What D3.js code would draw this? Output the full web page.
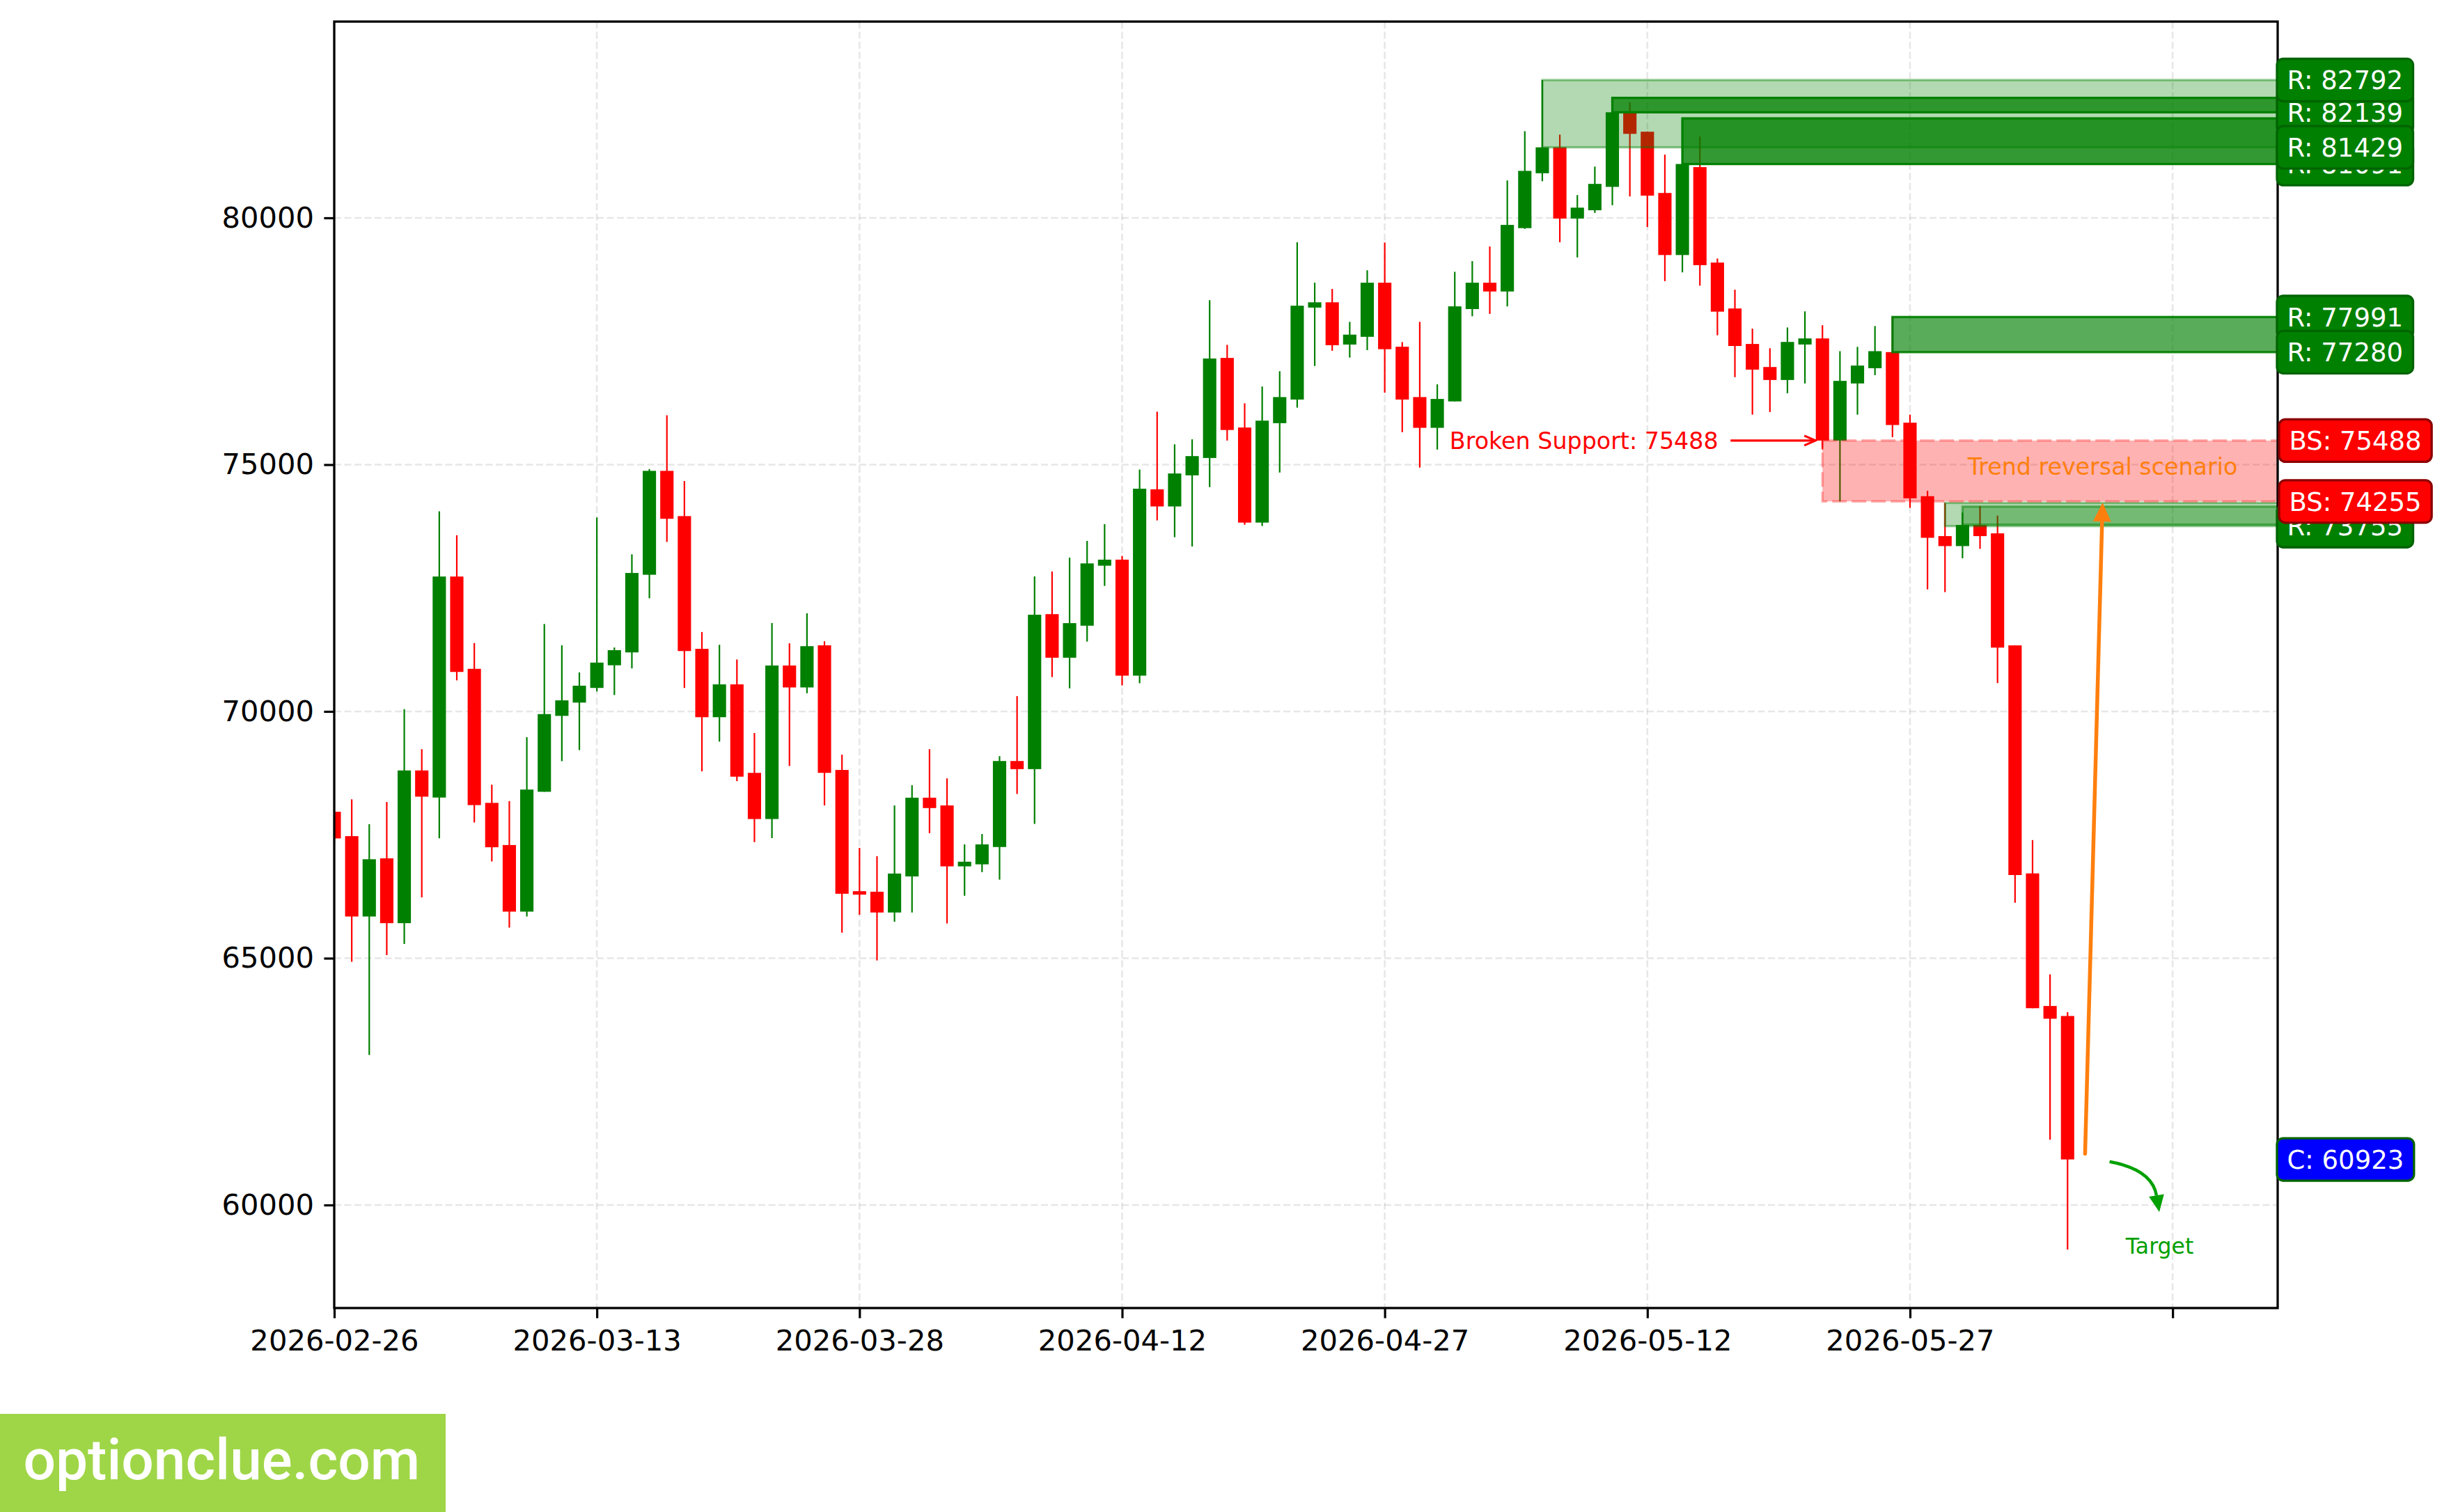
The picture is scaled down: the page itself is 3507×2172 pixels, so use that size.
<!DOCTYPE html>
<html><head><meta charset="utf-8">
<script src="https://cdn.jsdelivr.net/npm/d3@7"></script>
<style>html,body{margin:0;padding:0;background:#fff;} svg{display:block}</style>
</head><body>
<script>
// ---------- DATA ----------
const startDate = "2026-02-26";
const endDate = "2026-06-17";
const opens  = [67967,67473,65845,67023,65710,68804,68255,72733,70863,68147,67293,65944,68372,69910,70179,70476,70935,71196,72769,74874,
                73957,71268,69883,70548,68755,67820,70930,70486,71339,68814,66358,66347,65926,66657,68252,68095,66861,66902,67253,68995,
                68831,71971,71088,71737,72953,73075,70725,74500,74153,74783,75135,77162,75752,73826,75840,76319,78182,78289,77433,77590,
                78686,77389,76369,75746,76281,78152,78686,78508,79792,80904,81429,79986,80154,80628,82150,81745,80504,79247,81028,79094,
                78164,77445,76978,76715,77434,77557,75488,76645,76954,77280,75850,74361,73552,73350,73777,73608,71338,66718,64032,63829];
const highs  = [68150,68219,67715,68165,70045,69235,74055,73570,71385,68516,68183,69478,71771,71340,70791,73930,71295,73183,74910,76000,
                74667,71609,71349,71052,69562,71789,71380,71988,71421,69124,67235,67066,68095,68504,69235,68644,67306,67516,69094,70310,
                72736,72836,73116,73455,73795,73151,74902,76073,75412,75513,78333,77427,76243,76583,76892,79506,78686,78560,77893,78938,
                79501,77483,77893,76627,78907,79123,79420,80758,81756,82792,81686,80461,81038,82431,82339,81750,81281,82015,81648,79176,
                78544,77755,77358,77779,78106,77825,77299,77387,77808,77991,76013,74470,74225,74030,74159,73968,71338,67393,64673,63908];
const lows   = [67300,64928,63039,65063,65287,66232,67428,70629,67751,66960,65620,65845,68372,68992,69217,70404,70332,70872,72293,73435,
                70476,68786,69388,68588,67352,67434,68895,70369,68095,65517,65879,64955,65739,65926,67533,65704,66265,66744,66592,68328,
                67721,70696,70468,71415,72543,70527,70571,73870,73530,73341,74544,75488,73782,73757,74840,76155,76999,77307,77169,77320,
                76457,75658,74940,75305,76281,78006,78054,78206,79776,80742,79506,79198,80100,80256,80434,79814,78718,78896,78626,77621,
                76773,76013,76066,76446,76645,75306,74255,76013,76814,75557,74125,72473,72417,73103,73294,70574,66123,63987,61323,59097];
const closes = [67427,65845,67005,65710,68804,68273,72733,70800,68102,67248,65944,68417,69946,70224,70521,70989,71241,72805,74874,73903,
                71223,69883,70548,68678,67820,70930,70486,71322,68755,66306,66288,65926,66715,68252,68042,66861,66955,67306,68995,68831,
                71959,71088,71789,72999,73075,70725,74512,74153,74821,75173,77150,75702,73826,75891,76369,78220,78289,77420,77634,78686,
                77339,76319,75746,76331,78207,78686,78508,79857,80952,81429,79986,80207,80688,82139,81702,80450,79247,81091,79042,78100,
                77404,76925,76715,77486,77557,75488,76697,77007,77299,75803,74318,73518,73350,73777,73552,71293,66685,63987,63774,60923];

const xTickDates  = ["2026-02-26","2026-03-13","2026-03-28","2026-04-12","2026-04-27","2026-05-12","2026-05-27","2026-06-11"];
const xTickLabels = ["2026-02-26","2026-03-13","2026-03-28","2026-04-12","2026-04-27","2026-05-12","2026-05-27",""];
const yTicks = [60000, 65000, 70000, 75000, 80000];

// resistance zones: start candle index, bottom, top, opacity
const zoneStart  = [69, 73, 77, 89, 92, 93];
const zoneBottom = [81429, 82139, 81091, 77280, 73755, 73785];
const zoneTop    = [82792, 82431, 82015, 77991, 74225, 74150];
const zoneAlpha  = [0.3, 0.75, 0.8, 0.65, 0.3, 0.35];

const bsZone = {start: 85, bottom: 74255, top: 75488};

// right side labels (draw order)
const levelKinds  = ["R","R","R","R","R","R","R","BS","BS","C"];
const levelValues = [81091,82139,82792,81429,77991,77280,73755,75488,74255,60923];

const watermark = "optionclue.com";

// ---------- LAYOUT ----------
const W = 3507, H = 2172;
const L = 480, R = 3271, T = 31, B = 1879;

const parse = d3.utcParse("%Y-%m-%d");
const t0 = parse(startDate);
const candles = opens.map((o, i) => ({date: d3.utcDay.offset(t0, i), o, h: highs[i], l: lows[i], c: closes[i]}));

const x = d3.scaleUtc().domain([t0, parse(endDate)]).range([L, R]);
const minLow = d3.min(lows), maxHigh = d3.max(highs.concat(zoneTop));
const pad = (maxHigh - minLow) * 0.05;
const y = d3.scaleLinear().domain([minLow - pad, maxHigh + pad]).range([B, T]);
const xDay = d => x(new Date(t0.getTime() + d * 864e5));
const dayW = xDay(1) - xDay(0);

const svg = d3.select("body").append("svg").attr("width", W).attr("height", H)
  .style("font-family", "'DejaVu Sans', sans-serif");
svg.append("rect").attr("width", W).attr("height", H).attr("fill", "#fff");

svg.append("defs").append("clipPath").attr("id", "plot")
  .append("rect").attr("x", L).attr("y", T).attr("width", R - L).attr("height", B - T);

// grid
const grid = svg.append("g").attr("stroke", "#b0b0b0").attr("stroke-opacity", 0.3)
  .attr("stroke-width", 2.6).attr("stroke-dasharray", "10,4.5");
grid.selectAll(".gh").data(yTicks).join("line")
  .attr("x1", L).attr("x2", R).attr("y1", d => y(d)).attr("y2", d => y(d));
grid.selectAll(".gv").data(xTickDates).join("line")
  .attr("x1", d => x(parse(d))).attr("x2", d => x(parse(d))).attr("y1", T).attr("y2", B);

// candles
const cg = svg.append("g").attr("clip-path", "url(#plot)");
const bw = dayW * 0.76;
cg.selectAll(".wick").data(candles).join("line")
  .attr("x1", d => x(d.date)).attr("x2", d => x(d.date))
  .attr("y1", d => y(d.h)).attr("y2", d => y(d.l))
  .attr("stroke", d => d.c >= d.o ? "#008000" : "#ff0000").attr("stroke-width", 2.2);
cg.selectAll(".body").data(candles).join("rect")
  .attr("x", d => x(d.date) - bw / 2).attr("width", bw)
  .attr("y", d => y(Math.max(d.o, d.c)))
  .attr("height", d => Math.max(2, Math.abs(y(d.o) - y(d.c))))
  .attr("fill", d => d.c >= d.o ? "#008000" : "#ff0000");

// zones
const zg = svg.append("g").attr("clip-path", "url(#plot)");
zoneStart.forEach((s, i) => {
  zg.append("rect")
    .attr("x", xDay(s)).attr("width", R + 20 - xDay(s))
    .attr("y", y(zoneTop[i])).attr("height", y(zoneBottom[i]) - y(zoneTop[i]))
    .attr("fill", "#008000").attr("fill-opacity", zoneAlpha[i])
    .attr("stroke", "#008000").attr("stroke-opacity", Math.min(1, zoneAlpha[i] * 1.4)).attr("stroke-width", 3.3);
});
zg.append("rect")
  .attr("x", xDay(bsZone.start)).attr("width", R + 20 - xDay(bsZone.start))
  .attr("y", y(bsZone.top)).attr("height", y(bsZone.bottom) - y(bsZone.top))
  .attr("fill", "#ff0000").attr("fill-opacity", 0.3)
  .attr("stroke", "#ff0000").attr("stroke-opacity", 0.3).attr("stroke-width", 3.5)
  .attr("stroke-dasharray", "21,7");

// annotations
const ag = svg.append("g");
ag.append("text").attr("x", xDay(79.05)).attr("y", y(bsZone.top)).attr("dy", "0.35em")
  .attr("text-anchor", "end").attr("font-size", 33.3).attr("fill", "#ff0000")
  .text("Broken Support: " + bsZone.top);
{
  const x1 = xDay(79.75), x2 = xDay(84.6), yy = y(bsZone.top);
  ag.append("line").attr("x1", x1).attr("x2", x2).attr("y1", yy).attr("y2", yy)
    .attr("stroke", "#ff0000").attr("stroke-width", 3.2);
  ag.append("path").attr("d", `M${x2 - 16},${yy - 7}L${x2},${yy}L${x2 - 16},${yy + 7}`)
    .attr("fill", "none").attr("stroke", "#ff0000").attr("stroke-width", 3.2);
}
ag.append("text").attr("x", xDay(101)).attr("y", y((bsZone.top + bsZone.bottom) / 2)).attr("dy", "0.15em")
  .attr("text-anchor", "middle").attr("font-size", 33.3).attr("fill", "#ff7f0e")
  .text("Trend reversal scenario");
{
  const xa = xDay(100), ya = y(61040), xb = xDay(101), yb = y(74230);
  const ang = Math.atan2(yb - ya, xb - xa);
  const hl = 27, hw = 13;
  const bx = xb - hl * Math.cos(ang), by = yb - hl * Math.sin(ang);
  ag.append("line").attr("x1", xa).attr("y1", ya).attr("x2", bx).attr("y2", by)
    .attr("stroke", "#ff7f0e").attr("stroke-width", 5.5).attr("stroke-linecap", "round");
  ag.append("path").attr("d",
    `M${xb},${yb}L${bx + hw * Math.sin(ang)},${by - hw * Math.cos(ang)}L${bx - hw * Math.sin(ang)},${by + hw * Math.cos(ang)}Z`)
    .attr("fill", "#ff7f0e");
}
{
  const xa = xDay(101.4), ya = y(60877), xb = xDay(104.24), yb = y(59860);
  const mx = (xa + xb) / 2, my = (ya + yb) / 2;
  const cx = mx + 0.35 * (yb - ya), cy = my - 0.35 * (xb - xa);
  const ang = Math.atan2(yb - cy, xb - cx);
  const hl = 24, hw = 11;
  const bx = xb - hl * Math.cos(ang), by = yb - hl * Math.sin(ang);
  ag.append("path").attr("d", `M${xa},${ya}Q${cx},${cy} ${bx},${by}`)
    .attr("fill", "none").attr("stroke", "#00a000").attr("stroke-width", 4.5);
  ag.append("path").attr("d",
    `M${xb},${yb}L${bx + hw * Math.sin(ang)},${by - hw * Math.cos(ang)}L${bx - hw * Math.sin(ang)},${by + hw * Math.cos(ang)}Z`)
    .attr("fill", "#00a000");
}
ag.append("text").attr("x", xDay(104.26)).attr("y", y(59164)).attr("dy", "0.35em")
  .attr("text-anchor", "middle").attr("font-size", 31.5).attr("fill", "#00a000").text("Target");

// axes
const xAxis = d3.axisBottom(x).tickValues(xTickDates.map(parse))
  .tickFormat((d, i) => xTickLabels[i]).tickSize(14.6).tickPadding(16.8);
const gx = svg.append("g").attr("transform", `translate(0,${B})`).call(xAxis);
const yAxis = d3.axisLeft(y).tickValues(yTicks).tickFormat(d3.format("d")).tickSize(14.6).tickPadding(14.4);
const gy = svg.append("g").attr("transform", `translate(${L},0)`).call(yAxis);
[gx, gy].forEach(g => {
  g.select(".domain").remove();
  g.selectAll(".tick line").attr("stroke", "#000").attr("stroke-width", 3.2);
  g.selectAll(".tick text").attr("font-size", 41.7).attr("fill", "#000")
    .attr("font-family", "'DejaVu Sans', sans-serif");
});
svg.append("rect").attr("x", L).attr("y", T).attr("width", R - L).attr("height", B - T)
  .attr("fill", "none").attr("stroke", "#000").attr("stroke-width", 3.3);

// right level labels
const style = {
  R:  {fill: "#008000", edge: "#006400", x0: 3270},
  BS: {fill: "#ff0000", edge: "#8b0000", x0: 3273},
  C:  {fill: "#0000ff", edge: "#006400", x0: 3270}
};
levelValues.forEach((v, i) => {
  const k = levelKinds[i], s = style[k], yc = y(v);
  const g = svg.append("g");
  const r = g.append("rect");
  const t = g.append("text").attr("x", s.x0 + 14.5).attr("y", yc).attr("dy", "0.36em")
    .attr("font-size", 37).attr("fill", "#fff").text(`${k}: ${v}`);
  const tw = t.node().getComputedTextLength();
  r.attr("x", s.x0).attr("y", yc - 30.5).attr("width", tw + 29).attr("height", 61)
    .attr("rx", 9).attr("fill", s.fill).attr("stroke", s.edge).attr("stroke-width", 3.3);
});

// watermark
svg.append("rect").attr("x", 0).attr("y", 2031).attr("width", 640).attr("height", 141).attr("fill", "#9fd647");
svg.append("text").attr("x", 33.5).attr("y", 2125).attr("font-family", "Roboto, sans-serif")
  .attr("font-weight", 500).attr("font-size", 82).attr("fill", "#fff").text(watermark);
</script>
</body></html>
